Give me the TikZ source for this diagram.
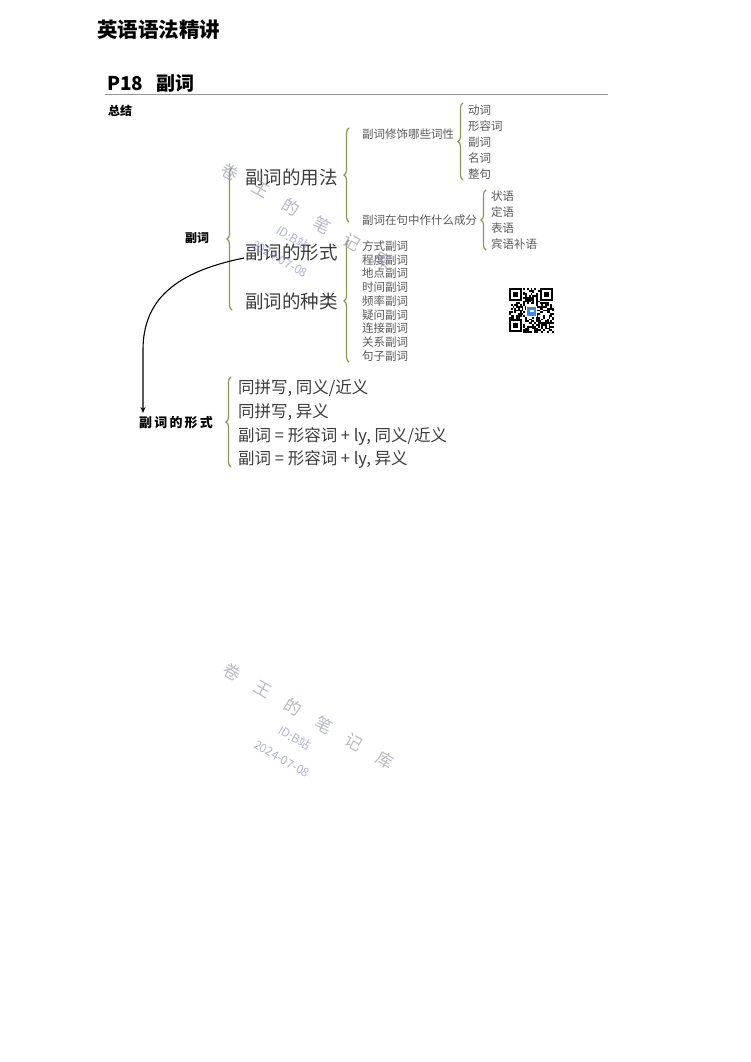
\documentclass[tikz,border=0pt]{standalone}
\usepackage{fontspec}
\setmainfont{Noto Sans CJK SC}
\usetikzlibrary{decorations.pathreplacing,arrows.meta,calc}
\definecolor{txt}{RGB}{60,60,60}
\definecolor{sub}{RGB}{90,90,90}
\definecolor{brcol}{RGB}{140,150,85}
\definecolor{rule}{RGB}{150,150,150}
\definecolor{wm}{RGB}{140,140,165}
\definecolor{wmb}{RGB}{130,130,195}
\definecolor{qrblue}{RGB}{60,140,230}
\tikzset{
  big/.style={font=\fontsize{18.5}{20}\selectfont, text=txt, inner sep=0pt, anchor=west},
  small/.style={font=\fontsize{11.5}{12}\selectfont, text=sub, inner sep=0pt, anchor=west},
  leaf/.style={font=\fontsize{11.5}{12}\selectfont, text=sub, inner sep=0pt, anchor=west},
  formtxt/.style={font=\fontsize{16.5}{18}\selectfont, text=txt, inner sep=0pt, anchor=west},
  lbl/.style={font=\bfseries\fontsize{12.5}{13}\selectfont, text=black, inner sep=0pt, anchor=west},
  brc/.style={draw=brcol, line width=1.2pt, line cap=round, decorate, decoration={brace, amplitude=5pt}},
  wmc/.style={font=\fontsize{17}{18}\selectfont, text=wm, rotate=-30, opacity=0.6},
  wms/.style={font=\fontsize{12}{13}\selectfont, text=wmb, rotate=-30, opacity=0.6},
}
\newcommand{\mywatermark}{%
  \foreach \c [count=\k from 0] in {卷,王,的,笔,记,库}{
    \node[wmc] (wm\k) at (232+\k*30.6, 672+\k*17.6) {\c};
  }
  \node[wms] (wmid) at (295,738) {ID:B站};
  \node[wms] (wmdate) at (282,759) {2024-07-08};
}
\begin{document}
\begin{tikzpicture}[x=1pt,y=-1pt]
\useasboundingbox[fill=white] (0,0) rectangle (750,1062);

% header
\node[font=\bfseries\fontsize{20.5}{22}\selectfont, inner sep=0pt, anchor=west] (hdr) at (97,30) {英语语法精讲};
\node[font=\bfseries\fontsize{19}{20}\selectfont, inner sep=0pt, anchor=west] (ttl) at (107,83) {P18\hspace{13pt}副词};
\draw[rule, line width=1pt] (105,95) -- (608,95);
\node[lbl, font=\bfseries\fontsize{12}{13}\selectfont] (zj) at (108,111) {总结};

% root
\node[lbl, font=\bfseries\fontsize{12}{13}\selectfont] (root) at (185,238) {副词};
\draw[brc] (232,310) -- (232,168);

% level 1
\node[big] (yf) at (245,177) {副词的用法};
\node[big] (xs) at (245,252) {副词的形式};
\node[big] (zl) at (245,301) {副词的种类};

% usage branch
\draw[brc] (349,222) -- (349,128);
\node[small] (xsh) at (362,134) {副词修饰哪些词性};
\node[small] (cf) at (362,220) {副词在句中作什么成分};

\draw[brc] (463,180) -- (463,103);
\node[leaf] (a1) at (468,110) {动词};
\node[leaf] (a2) at (468,126) {形容词};
\node[leaf] (a3) at (468,142) {副词};
\node[leaf] (a4) at (468,158) {名词};
\node[leaf] (a5) at (468,174) {整句};

\draw[brc] (486,250) -- (486,190);
\node[leaf] (b1) at (491,196) {状语};
\node[leaf] (b2) at (491,212) {定语};
\node[leaf] (b3) at (491,228) {表语};
\node[leaf] (b4) at (491,244) {宾语补语};

% kinds branch
\draw[brc] (349,362) -- (349,240);
\foreach \t [count=\k from 0] in {方式副词,程度副词,地点副词,时间副词,频率副词,疑问副词,连接副词,关系副词,句子副词}{
  \node[leaf] (k\k) at (362,246+\k*13.75) {\t};
}

% QR code
\begin{scope}
\pgfmathsetseed{1234}
\foreach \i in {0,...,24}{
  \foreach \j in {0,...,24}{
    \pgfmathrandominteger{\r}{0}{1}
    \ifnum\r=1 \fill[black] (509+\i*1.8, 288+\j*1.8) rectangle ++(1.8,1.8); \fi
  }
}
\foreach \ox/\oy in {509/288, 540.2/288, 509/319.2}{
  \fill[white] (\ox-0.2,\oy-0.2) rectangle ++(14.6,14.6);
  \fill[black] (\ox,\oy) rectangle ++(12.6,12.6);
  \fill[white] (\ox+1.8,\oy+1.8) rectangle ++(9,9);
  \fill[black] (\ox+3.6,\oy+3.6) rectangle ++(5.4,5.4);
}
\fill[white] (526,305.5) rectangle ++(11,11);
\fill[qrblue] (527,306.5) rectangle ++(9,9);
\fill[white] (529.5,310) rectangle ++(4,2);
\end{scope}

% arrow to forms
\coordinate (ae) at (143,413);
\draw[-{Stealth[length=6pt,width=5pt]}, line width=1.1pt, black]
  ($(xs.west)+(-1,6)$) .. controls (175,272) and (143,300) .. (143,350) -- (ae);

% forms
\node[lbl, font=\bfseries\fontsize{13}{14}\selectfont] (fm) at (139,423) {副\,词\,的\,形\,式};
\draw[brc] (231,467) -- (231,377);
\node[formtxt] (f1) at (238,388) {同拼写, 同义/近义};
\node[formtxt] (f2) at (238,412) {同拼写, 异义};
\node[formtxt] (f3) at (238,436) {副词 = 形容词 + ly, 同义/近义};
\node[formtxt] (f4) at (238,459) {副词 = 形容词 + ly, 异义};

% watermarks
\begin{scope}[shift={(-2,-500)}]
\mywatermark
\end{scope}
\mywatermark
\end{tikzpicture}
\end{document}
